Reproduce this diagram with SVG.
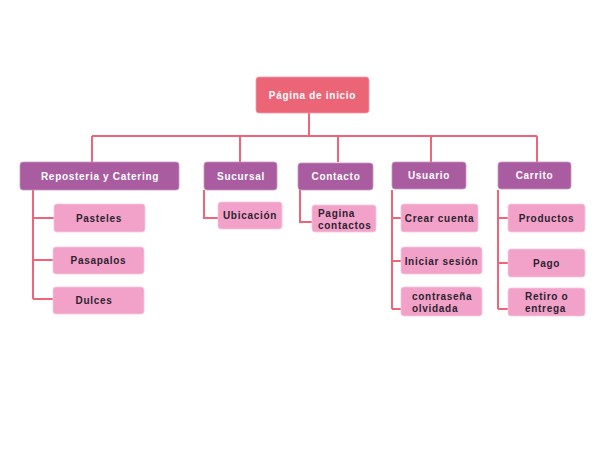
<svg xmlns="http://www.w3.org/2000/svg" width="600" height="450" viewBox="0 0 600 450">
<style>
.bg{fill:#ffffff}
.root{fill:#ec6577;stroke:#f39aa6;stroke-width:0.8}
.l1{fill:#a95c9f;stroke:#c994c2;stroke-width:0.8}
.l2{fill:#f2a2c8;stroke:#f7c6dc;stroke-width:0.8}
.conn{fill:none;stroke:#ef6478;stroke-width:2}
text{font-family:"Liberation Sans",Arial,sans-serif;font-size:10px;font-weight:bold;letter-spacing:0.7px}
.tw{fill:#ffffff}
.td{fill:#2d2231}
.c{text-anchor:middle}
</style>
<rect class="bg" x="0" y="0" width="600" height="450"/>
<g id="connectors">
<path class="conn" d="M309 113V136M92 136H537M92 136V162M240 136V162M338 136V162M431 136V162M537 136V162"/>
<path class="conn" d="M33 190V299M33 218H54M33 260H53M33 299H53"/>
<path class="conn" d="M204 190V218H218"/>
<path class="conn" d="M300 190V222H312"/>
<path class="conn" d="M392 190V309M392 218H401M392 261H401M392 309H401"/>
<path class="conn" d="M498 190V309M498 218H508M498 263H508M498 309H508"/>
</g>
<g id="n-root"><rect class="root" x="256" y="77" width="113" height="36" rx="3"/><text class="tw c" x="312.5" y="98.5">Página de inicio</text></g>
<g id="n-reposteria"><rect class="l1" x="20" y="162" width="159" height="28" rx="3"/><text class="tw c" x="100" y="179.5">Reposteria y Catering</text></g>
<g id="n-sucursal"><rect class="l1" x="204" y="162" width="73" height="28" rx="3"/><text class="tw c" x="241" y="179.5">Sucursal</text></g>
<g id="n-contacto"><rect class="l1" x="298" y="163" width="75" height="27" rx="3"/><text class="tw c" x="336" y="180">Contacto</text></g>
<g id="n-usuario"><rect class="l1" x="392" y="162" width="74" height="27" rx="3"/><text class="tw c" x="429" y="179">Usuario</text></g>
<g id="n-carrito"><rect class="l1" x="498" y="162" width="73" height="27" rx="3"/><text class="tw c" x="534.5" y="179">Carrito</text></g>
<g id="n-pasteles"><rect class="l2" x="54" y="204" width="91" height="28" rx="3"/><text class="td c" x="99" y="221.5">Pasteles</text></g>
<g id="n-pasapalos"><rect class="l2" x="53" y="247" width="91" height="27" rx="3"/><text class="td c" x="98.5" y="264">Pasapalos</text></g>
<g id="n-dulces"><rect class="l2" x="53" y="287" width="91" height="27" rx="3"/><text class="td c" x="94" y="304">Dulces</text></g>
<g id="n-ubicacion"><rect class="l2" x="218" y="202" width="64" height="27" rx="3"/><text class="td c" x="250" y="219">Ubicación</text></g>
<g id="n-paginacontactos"><rect class="l2" x="312" y="205" width="64" height="27" rx="3"/><text class="td" x="318" y="216.5">Pagina</text><text class="td" x="318" y="228.5">contactos</text></g>
<g id="n-crearcuenta"><rect class="l2" x="401" y="204" width="77" height="28" rx="3"/><text class="td c" x="439.5" y="221.5">Crear cuenta</text></g>
<g id="n-iniciarsesion"><rect class="l2" x="401" y="247" width="81" height="27" rx="3"/><text class="td c" x="441.5" y="264.5">Iniciar sesión</text></g>
<g id="n-contrasena"><rect class="l2" x="401" y="287" width="81" height="29" rx="3"/><text class="td" x="412" y="299.5">contraseña</text><text class="td" x="412" y="311.5">olvidada</text></g>
<g id="n-productos"><rect class="l2" x="508" y="204" width="77" height="28" rx="3"/><text class="td c" x="546.5" y="221.5">Productos</text></g>
<g id="n-pago"><rect class="l2" x="508" y="249" width="77" height="28" rx="3"/><text class="td c" x="546.5" y="266.5">Pago</text></g>
<g id="n-retiro"><rect class="l2" x="508" y="288" width="77" height="28" rx="3"/><text class="td" x="525" y="299.5">Retiro o</text><text class="td" x="525" y="311.5">entrega</text></g>
</svg>
